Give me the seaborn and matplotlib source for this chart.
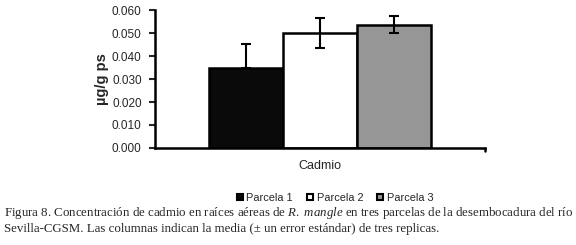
import numpy as np
import matplotlib
matplotlib.use("Agg")
import matplotlib.pyplot as plt
import seaborn as sns
import pandas as pd

# data
categoria = ["Cadmio"]
parcelas = ["Parcela 1", "Parcela 2", "Parcela 3"]
medias = [0.0347, 0.0501, 0.0537]
errores = [0.0104, 0.0066, 0.0037]
colores = ["#0a0a0a", "#ffffff", "#969696"]
yticks = [0.000, 0.010, 0.020, 0.030, 0.040, 0.050, 0.060]

sns.set_theme(style="white")
plt.rcParams['font.family'] = ['Liberation Sans', 'DejaVu Sans']
plt.rcParams['mathtext.fontset'] = 'custom'
plt.rcParams['mathtext.rm'] = 'Liberation Serif'
plt.rcParams['mathtext.it'] = 'Liberation Serif:italic'

df = pd.DataFrame({"cat": categoria * 3, "parcela": parcelas, "media": medias})

fig = plt.figure(figsize=(5.76, 2.45), dpi=100)
ax = fig.add_axes([0.269, 0.396, 0.573, 0.563])

sns.barplot(data=df, x="cat", y="media", hue="parcela", palette=colores,
            width=0.67, edgecolor="black", linewidth=1.8, errorbar=None,
            legend=True, ax=ax)

# error bars (mean +- SE); the lower half on the black bar is hidden in the original
xs = [p.get_x() + p.get_width() / 2 for p in ax.patches[:3]]
lower = [0 if c == "#0a0a0a" else e for c, e in zip(colores, errores)]
ax.errorbar(xs, medias, yerr=[lower, errores], fmt="none", ecolor="black",
            elinewidth=1.5, capsize=3.5, capthick=1.5)

ax.set_xlim(-0.5, 0.5)
ax.set_ylim(0, 0.060)
ax.set_yticks(yticks)
ax.set_yticklabels(["%.3f" % v for v in yticks], fontsize=8.5)
ax.set_xticks([0])
ax.set_xticklabels(categoria, fontsize=9)
ax.tick_params(axis="x", length=0, pad=9)
ax.tick_params(axis="y", direction="out", length=4.5, width=1.5, pad=5, left=True)
ax.set_xlabel("")
ax.set_ylabel("µg/g ps", fontsize=10.5, fontweight="bold", labelpad=2)
for s in ["top", "right"]:
    ax.spines[s].set_visible(False)
for s in ["left", "bottom"]:
    ax.spines[s].set_linewidth(1.8)
    ax.spines[s].set_color("black")
# small end tick at right of the category axis
ax.plot([0.5, 0.5], [0, -0.0012], color="black", lw=1.8, clip_on=False)

handles, labels = ax.get_legend_handles_labels()
ax.legend_.remove()
leg = fig.legend(handles, labels, loc="center", bbox_to_anchor=(0.582, 0.192), ncol=3,
                 frameon=False, fontsize=7.9, handlelength=0.55, handleheight=0.55,
                 handletextpad=0.3, columnspacing=1.3)
for h in leg.legend_handles:
    h.set_linewidth(1.5)
    h.set_edgecolor("black")

cap1 = ("Figura 8. Concentración de cadmio en raíces aéreas de $\\mathit{R.\\ mangle}$ "
        "en tres parcelas de la desembocadura del río")
cap2 = "Sevilla-CGSM. Las columnas indican la media (± un error estándar) de tres replicas."
fig.text(0.007, 0.118, cap1, fontsize=9.3, family="Liberation Serif", va="baseline")
fig.text(0.007, 0.053, cap2, fontsize=9.3, family="Liberation Serif", va="baseline")

fig.savefig("out.png", dpi=100, facecolor="white")
